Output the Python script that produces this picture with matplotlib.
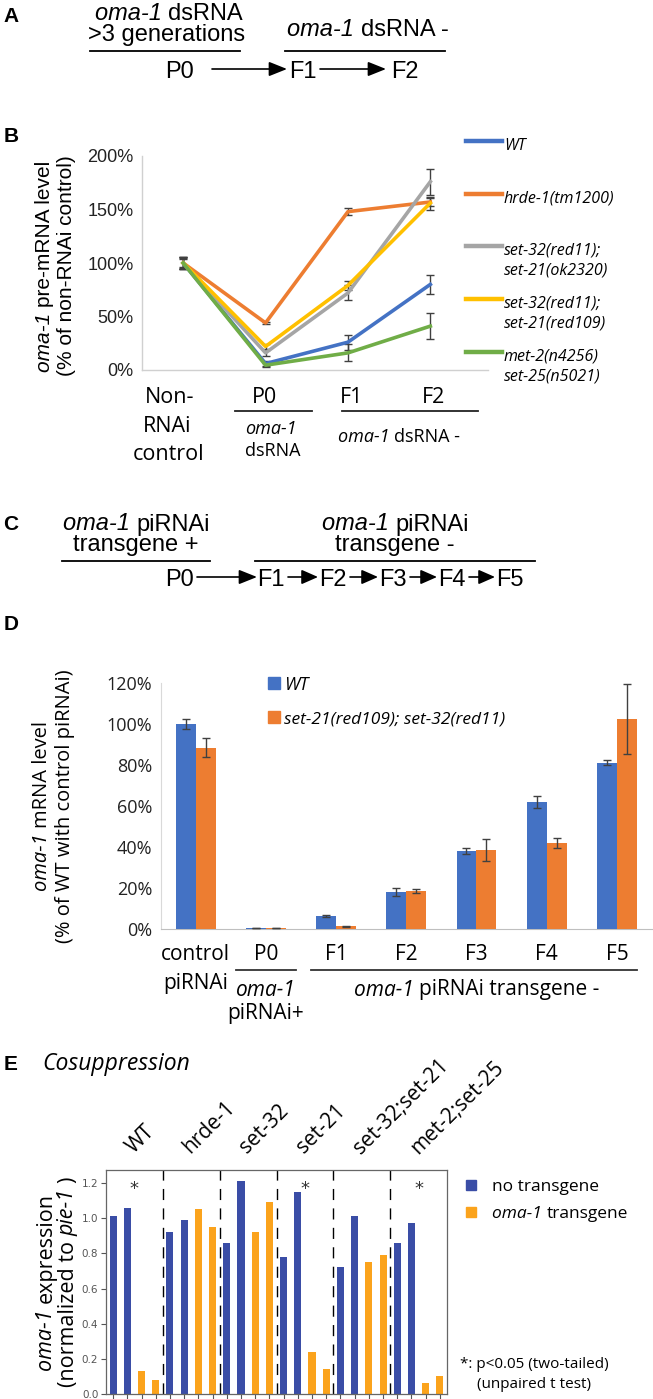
import matplotlib
matplotlib.use('Agg')
import matplotlib.pyplot as plt
import numpy as np
from matplotlib.patches import FancyArrowPatch, Rectangle
from matplotlib.lines import Line2D
from matplotlib.transforms import blended_transform_factory

# ---------------- data ----------------
# Panel B
b_categories = ['Non-RNAi control', 'P0', 'F1', 'F2']
b_series = ['WT', 'hrde-1(tm1200)', 'set-32(red11);\nset-21(ok2320)',
            'set-32(red11);\nset-21(red109)', 'met-2(n4256)\nset-25(n5021)']
b_wt = [100, 6, 26, 80]
b_wt_err = [5, 2, 7, 9]
b_hrde1 = [100, 44, 148, 157]
b_hrde1_err = [6, 1, 3, 4]
b_set32_ok = [100, 16, 72, 176]
b_set32_ok_err = [6, 3, 7, 12]
b_set32_red = [100, 22, 79, 156]
b_set32_red_err = [6, 2, 4, 6]
b_met2 = [100, 4.5, 16, 41]
b_met2_err = [4, 2, 8, 12]
b_yticks = [0, 50, 100, 150, 200]

# Panel D
d_categories = ['control', 'P0', 'F1', 'F2', 'F3', 'F4', 'F5']
d_wt = [100, 0.5, 6.5, 18, 38, 62, 81]
d_wt_err = [2.5, 0.2, 0.5, 2, 1.5, 3, 1.2]
d_mut = [88.5, 0.5, 1.3, 18.5, 38.5, 42, 102.5]
d_mut_err = [4.5, 0.2, 0.3, 0.8, 5.5, 2.5, 17]
d_yticks = [0, 20, 40, 60, 80, 100, 120]

# Panel E
e_groups = ['WT', 'hrde-1', 'set-32', 'set-21', 'set-32;set-21', 'met-2;set-25']
e_no_tg = [[1.01, 1.06], [0.92, 0.99], [0.86, 1.21], [0.78, 1.15], [0.72, 1.01], [0.86, 0.97]]
e_tg = [[0.13, 0.08], [1.05, 0.95], [0.92, 1.09], [0.24, 0.14], [0.75, 0.79], [0.06, 0.10]]
e_sig = [True, False, False, True, False, True]
e_yticks = [0.0, 0.2, 0.4, 0.6, 0.8, 1.0, 1.2]

# ---------------- figure helpers ----------------
W, H = 653, 1399
fig = plt.figure(figsize=(W / 100, H / 100), dpi=100)
R = fig.canvas.get_renderer()

HEL = ['Liberation Sans', 'DejaVu Sans']
MYR = ['Open Sans', 'DejaVu Sans']


def X(px):
    return px / W


def Y(py):
    return 1 - py / H


def tw(s, size, fam, style='normal', weight='normal'):
    t = fig.text(0, 0, '|' + s + '|', fontsize=size, family=fam, style=style, weight=weight)
    w1 = t.get_window_extent(R).width
    t.set_text('||')
    w2 = t.get_window_extent(R).width
    t.remove()
    return w1 - w2


def rich(x, y, pieces, size, fam, rot=0, align='center', color='black', weight='normal'):
    if isinstance(pieces, str):
        pieces = [(pieces, 'normal')]
    ws = [tw(s, size, fam, st, weight) for s, st in pieces]
    tot = sum(ws)
    cap = 0.72 * size * 100 / 72
    if rot == 0:
        cur = x - tot / 2 if align == 'center' else x
        yb = y + cap / 2
        for (s, st), w in zip(pieces, ws):
            fig.text(X(cur), Y(yb), s, fontsize=size, family=fam, style=st, weight=weight,
                     color=color, ha='left', va='baseline')
            cur += w
    else:
        cur = y + tot / 2
        xb = x + cap / 2
        for (s, st), w in zip(pieces, ws):
            fig.text(X(xb), Y(cur), s, fontsize=size, family=fam, style=st, weight=weight,
                     color=color, ha='left', va='baseline', rotation=90, rotation_mode='anchor')
            cur -= w


def hline(x0, x1, y, lw=1.3, color='black'):
    fig.add_artist(Line2D([X(x0), X(x1)], [Y(y), Y(y)], transform=fig.transFigure,
                          color=color, lw=lw))


def arrow(x0, x1, y, hl=0.55):
    fig.add_artist(FancyArrowPatch((X(x0), Y(y)), (X(x1), Y(y)), transform=fig.transFigure,
                                   arrowstyle='-|>,head_length=%s,head_width=0.22' % hl,
                                   mutation_scale=20, lw=1.2, color='black',
                                   shrinkA=0, shrinkB=0))


def axes_px(left, top, right, bottom):
    return fig.add_axes([X(left), Y(bottom), (right - left) / W, (bottom - top) / H])


LBL = 15  # panel letter size

# ---------------- Panel A ----------------
rich(11, 15, 'A', LBL, HEL, weight='bold')
rich(169, 12, [('oma-1 ', 'italic'), ('dsRNA', 'normal')], 17, HEL)
rich(167, 32, '>3 generations', 17, HEL)
hline(90, 240, 51)
rich(179, 69, 'P0', 17, HEL)
arrow(212, 287, 69)
rich(368, 27, [('oma-1 ', 'italic'), ('dsRNA -', 'normal')], 17, HEL)
hline(285, 445, 51)
rich(303, 69, 'F1', 17, HEL)
arrow(320, 386, 69)
rich(405, 69, 'F2', 17, HEL)

# ---------------- Panel B ----------------
rich(11, 135, 'B', LBL, HEL, weight='bold')
axb = axes_px(142, 156, 488, 370)
xb = np.arange(len(b_categories))
b_colors = ['#4472C4', '#ED7D31', '#A5A5A5', '#FFC000', '#70AD47']
b_vals = [b_wt, b_hrde1, b_set32_ok, b_set32_red, b_met2]
b_errs = [b_wt_err, b_hrde1_err, b_set32_ok_err, b_set32_red_err, b_met2_err]
for v, e, c in zip(b_vals, b_errs, b_colors):
    axb.errorbar(xb, v, yerr=e, color=c, lw=2.6, ecolor='#404040', elinewidth=1,
                 capsize=3, capthick=1, zorder=3)
axb.set_xlim(-0.5, 3.7)
axb.set_ylim(0, 200)
axb.set_yticks(b_yticks)
axb.set_yticklabels(['%d%%' % t for t in b_yticks])
axb.set_xticks([])
axb.tick_params(axis='y', length=0, pad=6, labelsize=13)
for lab in axb.get_yticklabels():
    lab.set_family(HEL)
    lab.set_color('#222222')
for s in ['top', 'right']:
    axb.spines[s].set_visible(False)
for s in ['left', 'bottom']:
    axb.spines[s].set_color('#d0d0d0')
    axb.spines[s].set_linewidth(1)
axb.patch.set_alpha(0)

rich(43, 266, [('oma-1 ', 'italic'), ('pre-mRNA level', 'normal')], 15, HEL, rot=90)
rich(65, 266, '(% of non-RNAi control)', 15, HEL, rot=90)

# category labels
rich(170, 395, 'Non-', 15.5, MYR)
rich(167, 424, 'RNAi', 15.5, MYR)
rich(169, 452, 'control', 15.5, MYR)
rich(265, 395, 'P0', 15.5, MYR)
hline(235, 312, 411, lw=1.3, color='#222222')
rich(271, 428, [('oma-1', 'italic')], 13, MYR)
rich(273, 450, 'dsRNA', 13, MYR)
rich(352, 395, 'F1', 15.5, MYR)
rich(434, 395, 'F2', 15.5, MYR)
hline(342, 478, 411, lw=1.3, color='#222222')
rich(338, 435, [('oma-1 ', 'italic'), ('dsRNA -', 'normal')], 13, MYR, align='left')

# legend B
b_leg_y = [141, 194, 246, 299, 352]
for lbl, c, yy in zip(b_series, b_colors, b_leg_y):
    hline(466, 502, yy, lw=3.2, color=c)
    for k, line in enumerate(lbl.split('\n')):
        rich(504, yy + 3 + 20 * k, [(line, 'italic')], 11.5, MYR, align='left')

# ---------------- Panel C ----------------
rich(11, 522, 'C', LBL, HEL, weight='bold')
rich(136, 522, [('oma-1 ', 'italic'), ('piRNAi', 'normal')], 17, HEL)
rich(136, 542, 'transgene +', 17, HEL)
hline(62, 210, 561)
rich(179, 577, 'P0', 17, HEL)
arrow(197, 257, 577)
rich(395, 522, [('oma-1 ', 'italic'), ('piRNAi', 'normal')], 17, HEL)
rich(395, 542, 'transgene -', 17, HEL)
hline(255, 535, 561)
c_gen_x = [271, 333, 393, 452, 510]
for i, g in enumerate(['F1', 'F2', 'F3', 'F4', 'F5']):
    rich(c_gen_x[i], 577, g, 17, HEL)
    if i < 4:
        arrow(c_gen_x[i] + 17, c_gen_x[i + 1] - 15, 577, hl=0.5)

# ---------------- Panel D ----------------
rich(11, 622, 'D', LBL, HEL, weight='bold')
axd = axes_px(160.5, 683, 652, 929)
xd = np.arange(len(d_categories))
bw = 0.284
ekw = dict(ecolor='#404040', elinewidth=1, capthick=1)
axd.bar(xd - bw / 2, d_wt, bw, color='#4472C4', yerr=d_wt_err, capsize=3, error_kw=ekw, zorder=3)
axd.bar(xd + bw / 2, d_mut, bw, color='#ED7D31', yerr=d_mut_err, capsize=3, error_kw=ekw, zorder=3)
axd.set_xlim(-0.5, 6.5)
axd.set_ylim(0, 120)
axd.set_yticks(d_yticks)
axd.set_yticklabels(['%d%%' % t for t in d_yticks])
axd.set_xticks([])
axd.tick_params(axis='y', length=0, pad=6, labelsize=13)
for lab in axd.get_yticklabels():
    lab.set_family(MYR)
    lab.set_color('#222222')
for s in ['top', 'right']:
    axd.spines[s].set_visible(False)
axd.spines['left'].set_color('#d9d9d9')
axd.spines['bottom'].set_color('#bfbfbf')
axd.patch.set_alpha(0)

rich(40, 806, [('oma-1 ', 'italic'), ('mRNA level', 'normal')], 14.5, MYR, rot=90)
rich(63, 806, '(% of WT with control piRNAi)', 14.5, MYR, rot=90)

# legend D
fig.add_artist(Rectangle((X(268), Y(689)), 12 / W, 12 / H, transform=fig.transFigure, color='#4472C4'))
rich(284, 683, [('WT', 'italic')], 13, MYR, align='left')
fig.add_artist(Rectangle((X(268), Y(723)), 12 / W, 12 / H, transform=fig.transFigure, color='#ED7D31'))
rich(284, 717, [('set-21(red109); set-32(red11)', 'italic')], 12.5, MYR, align='left')

# category labels D
d_cx = [160.5 + (i + 0.5) * (652 - 160.5) / 7 for i in range(7)]
rich(d_cx[0], 953, 'control', 15, MYR)
rich(d_cx[0], 981, 'piRNAi', 15, MYR)
for i in range(1, 7):
    rich(d_cx[i], 953, d_categories[i], 15, MYR)
hline(d_cx[1] - 30, d_cx[1] + 30, 970, lw=1.3, color='#333333')
rich(d_cx[1], 988, [('oma-1', 'italic')], 15, MYR)
rich(d_cx[1], 1011, 'piRNAi+', 15, MYR)
hline(d_cx[2] - 25, d_cx[6] + 20, 970, lw=1.3, color='#333333')
rich((d_cx[2] + d_cx[6]) / 2, 988, [('oma-1 ', 'italic'), ('piRNAi transgene -', 'normal')], 15, MYR)

# ---------------- Panel E ----------------
rich(11, 1062, 'E', LBL, HEL, weight='bold')
rich(42, 1062, [('Cosuppression', 'italic')], 16.5, MYR, align='left')
axe = axes_px(106, 1170, 447, 1394)
blue_e = '#3A4DA6'
orange_e = '#FBA31C'
e_x = np.arange(24)
e_vals = []
e_cols = []
for nt, tg in zip(e_no_tg, e_tg):
    e_vals += nt + tg
    e_cols += [blue_e, blue_e, orange_e, orange_e]
axe.bar(e_x, e_vals, 0.5, color=e_cols, zorder=2)
for k in range(1, 6):
    axe.axvline(4 * k - 0.5, color='black', lw=1, dashes=(8, 6), zorder=1)
axe.set_xlim(-0.5, 23.5)
axe.set_ylim(0, 1.274)
axe.set_yticks(e_yticks)
axe.set_yticklabels(['%.1f' % t for t in e_yticks])
axe.set_xticks(e_x)
axe.set_xticklabels([])
axe.tick_params(axis='both', length=3.5, width=0.8, color='#555555', labelsize=7.5,
                labelcolor='#555555', pad=2)
for s in axe.spines.values():
    s.set_color('#666666')
    s.set_linewidth(0.9)
trans = blended_transform_factory(axe.transData, axe.transAxes)
for i, g in enumerate(e_groups):
    gc = 4 * i + 1.5
    if e_sig[i]:
        axe.text(gc, 1.165, '*', ha='center', va='center', fontsize=13, color='#333333',
                 family=['DejaVu Sans'])
    axe.text(gc + 0.2, 1 + 12 / 224, g, transform=trans, rotation=45, rotation_mode='anchor',
             ha='left', va='bottom', fontsize=15, family=MYR)

rich(44, 1282, [('oma-1 ', 'italic'), ('expression', 'normal')], 15.5, MYR, rot=90)
rich(66, 1282, [('(normalized to ', 'normal'), ('pie-1 ', 'italic'), (')', 'normal')], 15.5, MYR, rot=90)

# legend E
fig.add_artist(Rectangle((X(466), Y(1190)), 10 / W, 10 / H, transform=fig.transFigure, color=blue_e))
rich(492, 1185, 'no transgene', 12.5, MYR, align='left')
fig.add_artist(Rectangle((X(466), Y(1217)), 10 / W, 10 / H, transform=fig.transFigure, color=orange_e))
rich(492, 1212, [('oma-1 ', 'italic'), ('transgene', 'normal')], 12.5, MYR, align='left')
rich(460, 1362, '*: p<0.05 (two-tailed)', 11, MYR, align='left')
rich(477, 1383, '(unpaired t test)', 11, MYR, align='left')

fig.savefig('out.png', dpi=100)
